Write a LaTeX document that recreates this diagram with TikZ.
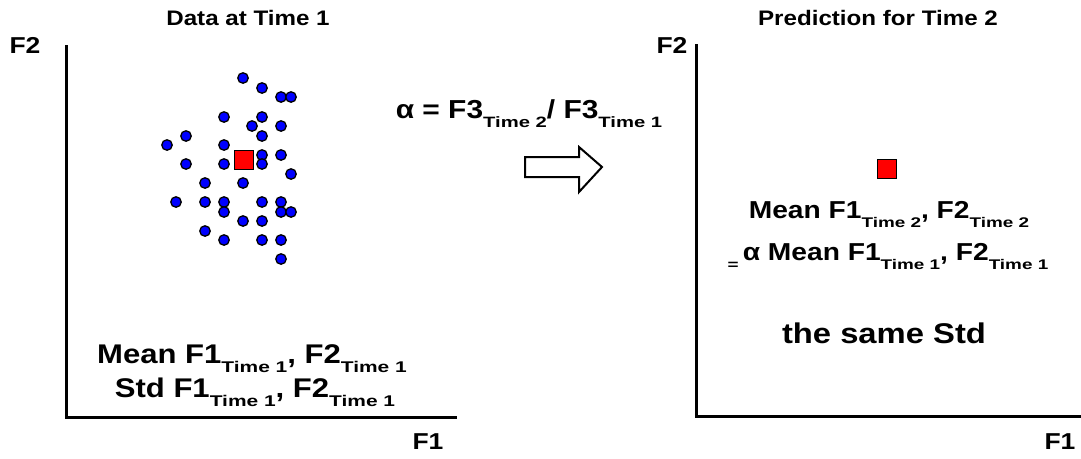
\documentclass[tikz,border=0pt]{standalone}
\usepackage{fontspec}
\setmainfont{Liberation Sans}[FakeStretch=1.15]
\newfontfamily\subfont{Liberation Sans}[FakeStretch=1.35]
\usepackage{tikz}

% subscript: size in pt, text
\newcommand{\tsub}[2][15]{\raisebox{-9pt}{\subfont\bfseries\fontsize{#1pt}{#1pt}\selectfont #2}}
\newcommand{\txtsize}[1]{\bfseries\fontsize{#1pt}{#1pt}\selectfont}

\begin{document}
\begin{tikzpicture}[
    x=1pt, y=-1pt,
    every node/.style={font=\txtsize{25}, inner sep=0pt},
    ttl/.style={font=\txtsize{21}},
    axlbl/.style={font=\txtsize{23}},
    dot/.style={circle, fill=blue, draw=black, line width=1.3pt, minimum size=10.5pt},
    meanbox/.style={fill=red, draw=black, line width=1.3pt, minimum size=19pt},
    axis/.style={line width=3pt},
  ]
  \useasboundingbox (0,0) rectangle (1081,458);

  % Left panel
  \node[ttl] (t1) at (248,18) {Data at Time 1};
  \coordinate (o1) at (66,417);
  \coordinate (y1) at (66,45);
  \coordinate (x1) at (457,417);
  \draw[axis] (y1) -- (o1) -- (x1);
  \node[axlbl] (f2a) at (25,45) {F2};
  \node[axlbl] (f1a) at (428,442) {F1};
  % Data points
  \foreach \px/\py [count=\i] in {243/78, 262/88, 281/97, 291/97, 224/117, 262/117,
      252/126, 281/126, 186/136, 262/136, 167/145, 224/145, 262/155, 281/155,
      186/164, 224/164, 262/164, 291/174, 205/183, 243/183, 176/202, 205/202,
      224/202, 262/202, 281/202, 224/212, 281/212, 291/212, 243/221, 262/221,
      205/231, 224/240, 262/240, 281/240, 281/259}
    \node[dot] (d\i) at (\px,\py) {};
  \node[meanbox] (m1) at (244,160) {};
  \node[anchor=base, font=\txtsize{27}] (mean1) at (252,363)
    {Mean F1\tsub[15.5]{Time 1}, F2\tsub[15.5]{Time 1}};
  \node[anchor=base, font=\txtsize{27}] (std1) at (255,397)
    {Std F1\tsub[15.5]{Time 1}, F2\tsub[15.5]{Time 1}};

  % Ratio and arrow
  \node[anchor=base, font=\txtsize{26}] (ratio) at (529,118)
    {α = F3\tsub{Time 2}/ F3\tsub{Time 1}};
  \draw[line width=2pt, line join=miter]
    (525,157) -- (579,157) -- (579,147) -- (602,167) -- (579,192)
    -- (579,177) -- (525,177) -- cycle;

  % Right panel
  \node[ttl] (t2) at (878,18) {Prediction for Time 2};
  \coordinate (o2) at (696,416);
  \coordinate (y2) at (696,44);
  \coordinate (x2) at (1081,416);
  \draw[axis] (y2) -- (o2) -- (x2);
  \node[axlbl] (f2b) at (672,45) {F2};
  \node[axlbl] (f1b) at (1060,442) {F1};
  \node[meanbox] (m2) at (887,169) {};
  \node[anchor=base, font=\txtsize{24.5}] (mean2) at (889,218)
    {Mean F1\tsub[14]{Time 2}, F2\tsub[14]{Time 2}};
  \node[anchor=base, font=\txtsize{24.5}] (eq2) at (888,260)
    {\tsub[14]{=}\,α Mean F1\tsub[14]{Time 1}, F2\tsub[14]{Time 1}};
  \node[font=\txtsize{28.5}] (same) at (884,333) {the same Std};
\end{tikzpicture}
\end{document}
